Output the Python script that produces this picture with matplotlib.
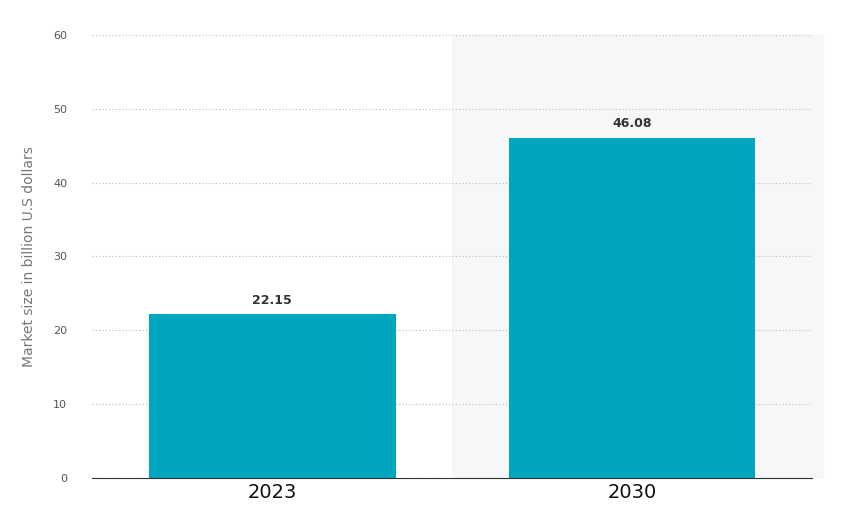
import matplotlib.pyplot as plt

years = ["2023", "2030"]
market_size = [22.15, 46.08]
y_ticks = [0, 10, 20, 30, 40, 50, 60]

fig = plt.figure(figsize=(8.61, 5.2), dpi=100)
ax = fig.add_axes([0.107, 0.081, 0.836, 0.852])

x = list(range(len(years)))
ax.axvspan(0.5, 1.53, color="#f7f7f7", zorder=0, clip_on=False)
bars = ax.bar(x, market_size, width=0.686, color="#00a5bf", zorder=2)
for xi, v in zip(x, market_size):
    ax.text(xi, v + 1.0, "{:.2f}".format(v), ha="center", va="bottom",
            fontsize=9, color="#333333", fontweight="bold")

ax.set_xlim(-0.5, 1.5)
ax.set_ylim(0, 60)
ax.set_yticks(y_ticks)
ax.set_yticklabels([str(t) for t in y_ticks], fontsize=8, color="#555555")
ax.set_xticks(x)
ax.set_xticklabels(years, fontsize=14, color="#111111")
ax.tick_params(axis="both", length=0)
ax.tick_params(axis="y", pad=18)
ax.grid(axis="y", linestyle=(0, (1, 2)), color="#bbbbbb", linewidth=0.8, zorder=1)
for s in ["top", "right", "left"]:
    ax.spines[s].set_visible(False)
ax.spines["bottom"].set_color("#333333")
ax.set_ylabel("Market size in billion U.S dollars", fontsize=10, color="#777777", labelpad=12)

fig.savefig("out.png", dpi=100)
